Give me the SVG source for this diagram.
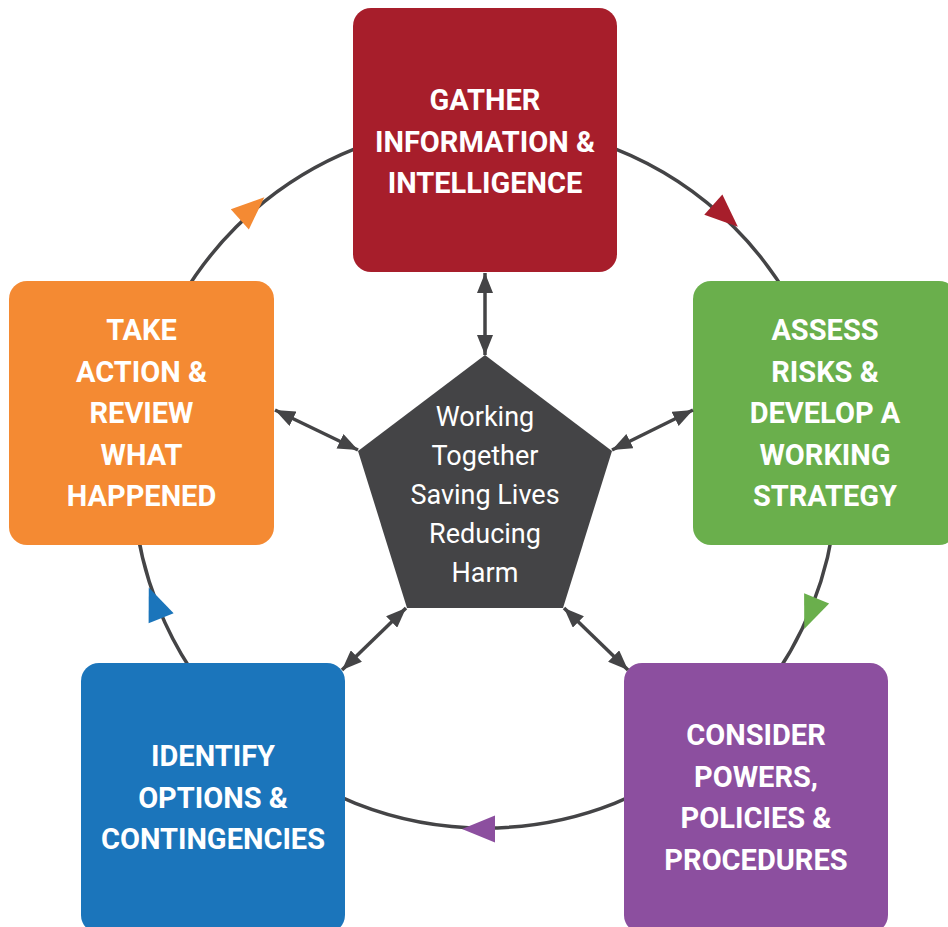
<svg xmlns="http://www.w3.org/2000/svg" width="948" height="927" viewBox="0 0 948 927">
<style>
.box-t{font-family:Roboto,"Liberation Sans",sans-serif;font-weight:bold;font-size:29px;fill:#fff;text-anchor:middle}
.ctr-t{font-family:Roboto,"Liberation Sans",sans-serif;font-size:27px;fill:#fff;text-anchor:middle}
.ring{fill:none;stroke:#444446;stroke-width:3.5}
.link{stroke:#444446;stroke-width:3.5;fill:none;marker-start:url(#ah);marker-end:url(#ah)}
</style>
<defs>
<marker id="ah" markerUnits="userSpaceOnUse" markerWidth="20" markerHeight="16" refX="20" refY="8" orient="auto-start-reverse" viewBox="0 0 20 16">
<path d="M0,0 L20,8 L0,16 Z" fill="#444446"/>
</marker>
<path id="tri" d="M22,0 L-11,-13.5 L-11,13.5 Z"/>
</defs>
<rect width="948" height="927" fill="#fff"/>
<g id="cycle">
<circle class="ring" cx="485" cy="476" r="352"/>
<use href="#tri" fill="#A71E2B" transform="translate(721.5,212) rotate(42)"/>
<use href="#tri" fill="#6AAF4C" transform="translate(812.5,608.6) rotate(112)"/>
<use href="#tri" fill="#8C4F9F" transform="translate(484,829) rotate(180)"/>
<use href="#tri" fill="#1B75BB" transform="translate(157,608) rotate(248)"/>
<use href="#tri" fill="#F48A33" transform="translate(248,212) rotate(318)"/>
</g>
<g id="node-gather">
<rect x="353" y="8" width="264" height="264" rx="18" fill="#A71E2B"/>
<text class="box-t"><tspan x="485" y="110">GATHER</tspan><tspan x="485" y="151.6">INFORMATION &amp;</tspan><tspan x="485" y="193.2">INTELLIGENCE</tspan></text>
</g>
<g id="node-assess">
<rect x="693" y="281" width="264" height="264" rx="18" fill="#6AAF4C"/>
<text class="box-t"><tspan x="825" y="340">ASSESS</tspan><tspan x="825" y="381.6">RISKS &amp;</tspan><tspan x="825" y="423.2">DEVELOP A</tspan><tspan x="825" y="464.8">WORKING</tspan><tspan x="825" y="506.4">STRATEGY</tspan></text>
</g>
<g id="node-consider">
<rect x="624" y="663" width="264" height="270" rx="18" fill="#8C4F9F"/>
<text class="box-t"><tspan x="756" y="745">CONSIDER</tspan><tspan x="756" y="786.6">POWERS,</tspan><tspan x="756" y="828.2">POLICIES &amp;</tspan><tspan x="756" y="869.8">PROCEDURES</tspan></text>
</g>
<g id="node-identify">
<rect x="81" y="663" width="264" height="270" rx="18" fill="#1B75BB"/>
<text class="box-t"><tspan x="213" y="766">IDENTIFY</tspan><tspan x="213" y="807.6">OPTIONS &amp;</tspan><tspan x="213" y="849.2">CONTINGENCIES</tspan></text>
</g>
<g id="node-take">
<rect x="9" y="281" width="265" height="264" rx="18" fill="#F48A33"/>
<text class="box-t"><tspan x="141.5" y="340">TAKE</tspan><tspan x="141.5" y="381.6">ACTION &amp;</tspan><tspan x="141.5" y="423.2">REVIEW</tspan><tspan x="141.5" y="464.8">WHAT</tspan><tspan x="141.5" y="506.4">HAPPENED</tspan></text>
</g>
<g id="node-center">
<polygon points="485,355 612,451 563,608 407,608 358,451" fill="#444446"/>
<text class="ctr-t"><tspan x="485" y="425.5">Working</tspan><tspan x="485" y="464.5">Together</tspan><tspan x="485" y="503.5">Saving Lives</tspan><tspan x="485" y="542.5">Reducing</tspan><tspan x="485" y="581.5">Harm</tspan></text>
</g>
<g id="connectors">
<line class="link" x1="485" y1="273" x2="485" y2="355"/>
<line class="link" x1="275" y1="410" x2="358" y2="450"/>
<line class="link" x1="693" y1="410" x2="612" y2="450"/>
<line class="link" x1="406" y1="608" x2="342" y2="670"/>
<line class="link" x1="564" y1="608" x2="628" y2="670"/>
</g>
</svg>
